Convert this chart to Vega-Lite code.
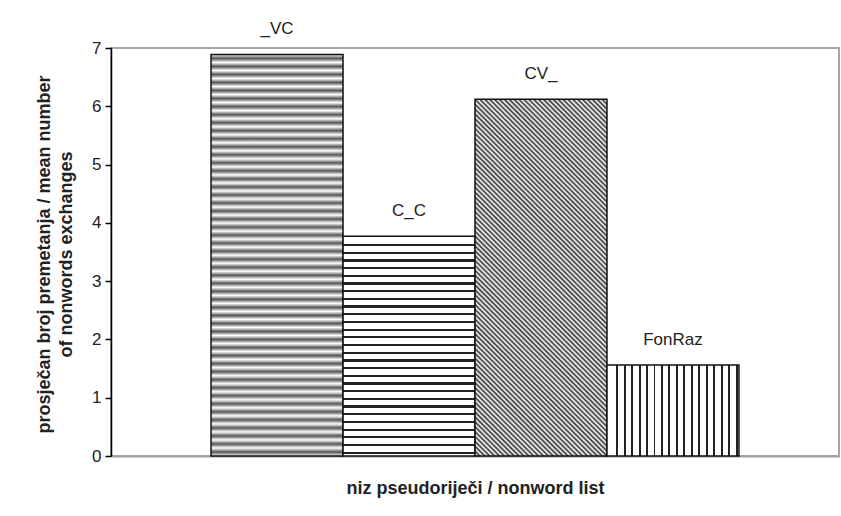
{
 "$schema": "https://vega.github.io/schema/vega-lite/v6.json",
 "width": 728,
 "height": 408,
 "autosize": "none",
 "padding": {"left": 111, "top": 48, "right": 2, "bottom": 60},
 "background": "white",
 "config": {"view": {"stroke": "#a6a6a6", "strokeWidth": 2}, "font": "Liberation Sans"},
 "data": {"values": [
  {"list": "_VC", "value": 6.89},
  {"list": "C_C", "value": 3.77},
  {"list": "CV_", "value": 6.12},
  {"list": "FonRaz", "value": 1.56}
 ]},
 "encoding": {
  "x": {"field": "list", "type": "nominal",
   "scale": {"domain": ["_VC", "C_C", "CV_", "FonRaz"], "paddingInner": 0, "paddingOuter": 0.758},
   "axis": {"labels": false, "ticks": false, "domainColor": "#a0a0a0", "domainWidth": 2,
    "title": "niz pseudoriječi / nonword list", "titleFontSize": 18, "titleFontWeight": "bold",
    "titleColor": "#222", "titlePadding": 23}},
  "y": {"field": "value", "type": "quantitative",
   "scale": {"domain": [0, 7], "nice": false},
   "axis": {"values": [0, 1, 2, 3, 4, 5, 6, 7], "grid": false, "domainColor": "#000", "domainWidth": 1.5,
    "tickColor": "#000", "tickWidth": 1.5, "tickSize": 6, "labelFontSize": 17, "labelColor": "#222",
    "labelPadding": 4,
    "title": ["prosječan broj premetanja / mean number", "of nonwords exchanges"],
    "titleFontSize": 18, "titleFontWeight": "bold", "titleColor": "#222", "titleLineHeight": 22,
    "titleX": -67, "titleY": 206, "titleBaseline": "middle", "titleAlign": "center", "titleAngle": 270}}
 },
 "layer": [
  {"transform": [{"filter": "datum.list === '_VC'"}],
   "mark": {"type": "bar", "stroke": "#111", "strokeWidth": 1.5,
    "fill": {"gradient": "linear", "x1": 0, "y1": 0, "x2": 0, "y2": 1, "stops": [
{"offset":0,"color":"#fff"},{"offset":0.01,"color":"#555"},{"offset":0.02,"color":"#fff"},{"offset":0.03,"color":"#555"},{"offset":0.04,"color":"#fff"},{"offset":0.05,"color":"#555"},{"offset":0.06,"color":"#fff"},{"offset":0.07,"color":"#555"},{"offset":0.08,"color":"#fff"},{"offset":0.09,"color":"#555"},
{"offset":0.1,"color":"#fff"},{"offset":0.11,"color":"#555"},{"offset":0.12,"color":"#fff"},{"offset":0.13,"color":"#555"},{"offset":0.14,"color":"#fff"},{"offset":0.15,"color":"#555"},{"offset":0.16,"color":"#fff"},{"offset":0.17,"color":"#555"},{"offset":0.18,"color":"#fff"},{"offset":0.19,"color":"#555"},
{"offset":0.2,"color":"#fff"},{"offset":0.21,"color":"#555"},{"offset":0.22,"color":"#fff"},{"offset":0.23,"color":"#555"},{"offset":0.24,"color":"#fff"},{"offset":0.25,"color":"#555"},{"offset":0.26,"color":"#fff"},{"offset":0.27,"color":"#555"},{"offset":0.28,"color":"#fff"},{"offset":0.29,"color":"#555"},
{"offset":0.3,"color":"#fff"},{"offset":0.31,"color":"#555"},{"offset":0.32,"color":"#fff"},{"offset":0.33,"color":"#555"},{"offset":0.34,"color":"#fff"},{"offset":0.35,"color":"#555"},{"offset":0.36,"color":"#fff"},{"offset":0.37,"color":"#555"},{"offset":0.38,"color":"#fff"},{"offset":0.39,"color":"#555"},
{"offset":0.4,"color":"#fff"},{"offset":0.41,"color":"#555"},{"offset":0.42,"color":"#fff"},{"offset":0.43,"color":"#555"},{"offset":0.44,"color":"#fff"},{"offset":0.45,"color":"#555"},{"offset":0.46,"color":"#fff"},{"offset":0.47,"color":"#555"},{"offset":0.48,"color":"#fff"},{"offset":0.49,"color":"#555"},
{"offset":0.5,"color":"#fff"},{"offset":0.51,"color":"#555"},{"offset":0.52,"color":"#fff"},{"offset":0.53,"color":"#555"},{"offset":0.54,"color":"#fff"},{"offset":0.55,"color":"#555"},{"offset":0.56,"color":"#fff"},{"offset":0.57,"color":"#555"},{"offset":0.58,"color":"#fff"},{"offset":0.59,"color":"#555"},
{"offset":0.6,"color":"#fff"},{"offset":0.61,"color":"#555"},{"offset":0.62,"color":"#fff"},{"offset":0.63,"color":"#555"},{"offset":0.64,"color":"#fff"},{"offset":0.65,"color":"#555"},{"offset":0.66,"color":"#fff"},{"offset":0.67,"color":"#555"},{"offset":0.68,"color":"#fff"},{"offset":0.69,"color":"#555"},
{"offset":0.7,"color":"#fff"},{"offset":0.71,"color":"#555"},{"offset":0.72,"color":"#fff"},{"offset":0.73,"color":"#555"},{"offset":0.74,"color":"#fff"},{"offset":0.75,"color":"#555"},{"offset":0.76,"color":"#fff"},{"offset":0.77,"color":"#555"},{"offset":0.78,"color":"#fff"},{"offset":0.79,"color":"#555"},
{"offset":0.8,"color":"#fff"},{"offset":0.81,"color":"#555"},{"offset":0.82,"color":"#fff"},{"offset":0.83,"color":"#555"},{"offset":0.84,"color":"#fff"},{"offset":0.85,"color":"#555"},{"offset":0.86,"color":"#fff"},{"offset":0.87,"color":"#555"},{"offset":0.88,"color":"#fff"},{"offset":0.89,"color":"#555"},
{"offset":0.9,"color":"#fff"},{"offset":0.91,"color":"#555"},{"offset":0.92,"color":"#fff"},{"offset":0.93,"color":"#555"},{"offset":0.94,"color":"#fff"},{"offset":0.95,"color":"#555"},{"offset":0.96,"color":"#fff"},{"offset":0.97,"color":"#555"},{"offset":0.98,"color":"#fff"},{"offset":0.99,"color":"#555"},
{"offset":1,"color":"#fff"}
    ]}}},
  {"transform": [{"filter": "datum.list === 'C_C'"}],
   "mark": {"type": "bar", "stroke": "#111", "strokeWidth": 1.5,
    "fill": {"gradient": "linear", "x1": 0, "y1": 0, "x2": 0, "y2": 1, "stops": [
{"offset":0,"color":"#fff"},
{"offset":0.035,"color":"#fff"},{"offset":0.035,"color":"#222"},{"offset":0.045,"color":"#222"},{"offset":0.045,"color":"#fff"},
{"offset":0.07,"color":"#fff"},{"offset":0.07,"color":"#222"},{"offset":0.08,"color":"#222"},{"offset":0.08,"color":"#fff"},
{"offset":0.105,"color":"#fff"},{"offset":0.105,"color":"#222"},{"offset":0.115,"color":"#222"},{"offset":0.115,"color":"#fff"},
{"offset":0.14,"color":"#fff"},{"offset":0.14,"color":"#222"},{"offset":0.15,"color":"#222"},{"offset":0.15,"color":"#fff"},
{"offset":0.175,"color":"#fff"},{"offset":0.175,"color":"#222"},{"offset":0.185,"color":"#222"},{"offset":0.185,"color":"#fff"},
{"offset":0.21,"color":"#fff"},{"offset":0.21,"color":"#222"},{"offset":0.22,"color":"#222"},{"offset":0.22,"color":"#fff"},
{"offset":0.245,"color":"#fff"},{"offset":0.245,"color":"#222"},{"offset":0.255,"color":"#222"},{"offset":0.255,"color":"#fff"},
{"offset":0.28,"color":"#fff"},{"offset":0.28,"color":"#222"},{"offset":0.29,"color":"#222"},{"offset":0.29,"color":"#fff"},
{"offset":0.315,"color":"#fff"},{"offset":0.315,"color":"#222"},{"offset":0.325,"color":"#222"},{"offset":0.325,"color":"#fff"},
{"offset":0.35,"color":"#fff"},{"offset":0.35,"color":"#222"},{"offset":0.36,"color":"#222"},{"offset":0.36,"color":"#fff"},
{"offset":0.385,"color":"#fff"},{"offset":0.385,"color":"#222"},{"offset":0.395,"color":"#222"},{"offset":0.395,"color":"#fff"},
{"offset":0.42,"color":"#fff"},{"offset":0.42,"color":"#222"},{"offset":0.43,"color":"#222"},{"offset":0.43,"color":"#fff"},
{"offset":0.455,"color":"#fff"},{"offset":0.455,"color":"#222"},{"offset":0.465,"color":"#222"},{"offset":0.465,"color":"#fff"},
{"offset":0.49,"color":"#fff"},{"offset":0.49,"color":"#222"},{"offset":0.5,"color":"#222"},{"offset":0.5,"color":"#fff"},
{"offset":0.525,"color":"#fff"},{"offset":0.525,"color":"#222"},{"offset":0.535,"color":"#222"},{"offset":0.535,"color":"#fff"},
{"offset":0.56,"color":"#fff"},{"offset":0.56,"color":"#222"},{"offset":0.57,"color":"#222"},{"offset":0.57,"color":"#fff"},
{"offset":0.595,"color":"#fff"},{"offset":0.595,"color":"#222"},{"offset":0.605,"color":"#222"},{"offset":0.605,"color":"#fff"},
{"offset":0.63,"color":"#fff"},{"offset":0.63,"color":"#222"},{"offset":0.64,"color":"#222"},{"offset":0.64,"color":"#fff"},
{"offset":0.665,"color":"#fff"},{"offset":0.665,"color":"#222"},{"offset":0.675,"color":"#222"},{"offset":0.675,"color":"#fff"},
{"offset":0.7,"color":"#fff"},{"offset":0.7,"color":"#222"},{"offset":0.71,"color":"#222"},{"offset":0.71,"color":"#fff"},
{"offset":0.735,"color":"#fff"},{"offset":0.735,"color":"#222"},{"offset":0.745,"color":"#222"},{"offset":0.745,"color":"#fff"},
{"offset":0.77,"color":"#fff"},{"offset":0.77,"color":"#222"},{"offset":0.78,"color":"#222"},{"offset":0.78,"color":"#fff"},
{"offset":0.805,"color":"#fff"},{"offset":0.805,"color":"#222"},{"offset":0.815,"color":"#222"},{"offset":0.815,"color":"#fff"},
{"offset":0.84,"color":"#fff"},{"offset":0.84,"color":"#222"},{"offset":0.85,"color":"#222"},{"offset":0.85,"color":"#fff"},
{"offset":0.875,"color":"#fff"},{"offset":0.875,"color":"#222"},{"offset":0.885,"color":"#222"},{"offset":0.885,"color":"#fff"},
{"offset":0.91,"color":"#fff"},{"offset":0.91,"color":"#222"},{"offset":0.92,"color":"#222"},{"offset":0.92,"color":"#fff"},
{"offset":0.945,"color":"#fff"},{"offset":0.945,"color":"#222"},{"offset":0.955,"color":"#222"},{"offset":0.955,"color":"#fff"},
{"offset":0.98,"color":"#fff"},{"offset":0.98,"color":"#222"},{"offset":0.99,"color":"#222"},{"offset":0.99,"color":"#fff"},
{"offset":1,"color":"#fff"}
    ]}}},
  {"transform": [{"filter": "datum.list === 'CV_'"}],
   "mark": {"type": "bar", "stroke": "#111", "strokeWidth": 1.5,
    "fill": {"gradient": "linear", "x1": 0, "y1": 1, "x2": 0.4455, "y2": -0.205, "stops": [
{"offset":0,"color":"#333"},{"offset":0.005,"color":"#fff"},{"offset":0.01,"color":"#333"},{"offset":0.015,"color":"#fff"},{"offset":0.02,"color":"#333"},{"offset":0.025,"color":"#fff"},{"offset":0.03,"color":"#333"},{"offset":0.035,"color":"#fff"},{"offset":0.04,"color":"#333"},{"offset":0.045,"color":"#fff"},
{"offset":0.05,"color":"#333"},{"offset":0.055,"color":"#fff"},{"offset":0.06,"color":"#333"},{"offset":0.065,"color":"#fff"},{"offset":0.07,"color":"#333"},{"offset":0.075,"color":"#fff"},{"offset":0.08,"color":"#333"},{"offset":0.085,"color":"#fff"},{"offset":0.09,"color":"#333"},{"offset":0.095,"color":"#fff"},
{"offset":0.1,"color":"#333"},{"offset":0.105,"color":"#fff"},{"offset":0.11,"color":"#333"},{"offset":0.115,"color":"#fff"},{"offset":0.12,"color":"#333"},{"offset":0.125,"color":"#fff"},{"offset":0.13,"color":"#333"},{"offset":0.135,"color":"#fff"},{"offset":0.14,"color":"#333"},{"offset":0.145,"color":"#fff"},
{"offset":0.15,"color":"#333"},{"offset":0.155,"color":"#fff"},{"offset":0.16,"color":"#333"},{"offset":0.165,"color":"#fff"},{"offset":0.17,"color":"#333"},{"offset":0.175,"color":"#fff"},{"offset":0.18,"color":"#333"},{"offset":0.185,"color":"#fff"},{"offset":0.19,"color":"#333"},{"offset":0.195,"color":"#fff"},
{"offset":0.2,"color":"#333"},{"offset":0.205,"color":"#fff"},{"offset":0.21,"color":"#333"},{"offset":0.215,"color":"#fff"},{"offset":0.22,"color":"#333"},{"offset":0.225,"color":"#fff"},{"offset":0.23,"color":"#333"},{"offset":0.235,"color":"#fff"},{"offset":0.24,"color":"#333"},{"offset":0.245,"color":"#fff"},
{"offset":0.25,"color":"#333"},{"offset":0.255,"color":"#fff"},{"offset":0.26,"color":"#333"},{"offset":0.265,"color":"#fff"},{"offset":0.27,"color":"#333"},{"offset":0.275,"color":"#fff"},{"offset":0.28,"color":"#333"},{"offset":0.285,"color":"#fff"},{"offset":0.29,"color":"#333"},{"offset":0.295,"color":"#fff"},
{"offset":0.3,"color":"#333"},{"offset":0.305,"color":"#fff"},{"offset":0.31,"color":"#333"},{"offset":0.315,"color":"#fff"},{"offset":0.32,"color":"#333"},{"offset":0.325,"color":"#fff"},{"offset":0.33,"color":"#333"},{"offset":0.335,"color":"#fff"},{"offset":0.34,"color":"#333"},{"offset":0.345,"color":"#fff"},
{"offset":0.35,"color":"#333"},{"offset":0.355,"color":"#fff"},{"offset":0.36,"color":"#333"},{"offset":0.365,"color":"#fff"},{"offset":0.37,"color":"#333"},{"offset":0.375,"color":"#fff"},{"offset":0.38,"color":"#333"},{"offset":0.385,"color":"#fff"},{"offset":0.39,"color":"#333"},{"offset":0.395,"color":"#fff"},
{"offset":0.4,"color":"#333"},{"offset":0.405,"color":"#fff"},{"offset":0.41,"color":"#333"},{"offset":0.415,"color":"#fff"},{"offset":0.42,"color":"#333"},{"offset":0.425,"color":"#fff"},{"offset":0.43,"color":"#333"},{"offset":0.435,"color":"#fff"},{"offset":0.44,"color":"#333"},{"offset":0.445,"color":"#fff"},
{"offset":0.45,"color":"#333"},{"offset":0.455,"color":"#fff"},{"offset":0.46,"color":"#333"},{"offset":0.465,"color":"#fff"},{"offset":0.47,"color":"#333"},{"offset":0.475,"color":"#fff"},{"offset":0.48,"color":"#333"},{"offset":0.485,"color":"#fff"},{"offset":0.49,"color":"#333"},{"offset":0.495,"color":"#fff"},
{"offset":0.5,"color":"#333"},{"offset":0.505,"color":"#fff"},{"offset":0.51,"color":"#333"},{"offset":0.515,"color":"#fff"},{"offset":0.52,"color":"#333"},{"offset":0.525,"color":"#fff"},{"offset":0.53,"color":"#333"},{"offset":0.535,"color":"#fff"},{"offset":0.54,"color":"#333"},{"offset":0.545,"color":"#fff"},
{"offset":0.55,"color":"#333"},{"offset":0.555,"color":"#fff"},{"offset":0.56,"color":"#333"},{"offset":0.565,"color":"#fff"},{"offset":0.57,"color":"#333"},{"offset":0.575,"color":"#fff"},{"offset":0.58,"color":"#333"},{"offset":0.585,"color":"#fff"},{"offset":0.59,"color":"#333"},{"offset":0.595,"color":"#fff"},
{"offset":0.6,"color":"#333"},{"offset":0.605,"color":"#fff"},{"offset":0.61,"color":"#333"},{"offset":0.615,"color":"#fff"},{"offset":0.62,"color":"#333"},{"offset":0.625,"color":"#fff"},{"offset":0.63,"color":"#333"},{"offset":0.635,"color":"#fff"},{"offset":0.64,"color":"#333"},{"offset":0.645,"color":"#fff"},
{"offset":0.65,"color":"#333"},{"offset":0.655,"color":"#fff"},{"offset":0.66,"color":"#333"},{"offset":0.665,"color":"#fff"},{"offset":0.67,"color":"#333"},{"offset":0.675,"color":"#fff"},{"offset":0.68,"color":"#333"},{"offset":0.685,"color":"#fff"},{"offset":0.69,"color":"#333"},{"offset":0.695,"color":"#fff"},
{"offset":0.7,"color":"#333"},{"offset":0.705,"color":"#fff"},{"offset":0.71,"color":"#333"},{"offset":0.715,"color":"#fff"},{"offset":0.72,"color":"#333"},{"offset":0.725,"color":"#fff"},{"offset":0.73,"color":"#333"},{"offset":0.735,"color":"#fff"},{"offset":0.74,"color":"#333"},{"offset":0.745,"color":"#fff"},
{"offset":0.75,"color":"#333"},{"offset":0.755,"color":"#fff"},{"offset":0.76,"color":"#333"},{"offset":0.765,"color":"#fff"},{"offset":0.77,"color":"#333"},{"offset":0.775,"color":"#fff"},{"offset":0.78,"color":"#333"},{"offset":0.785,"color":"#fff"},{"offset":0.79,"color":"#333"},{"offset":0.795,"color":"#fff"},
{"offset":0.8,"color":"#333"},{"offset":0.805,"color":"#fff"},{"offset":0.81,"color":"#333"},{"offset":0.815,"color":"#fff"},{"offset":0.82,"color":"#333"},{"offset":0.825,"color":"#fff"},{"offset":0.83,"color":"#333"},{"offset":0.835,"color":"#fff"},{"offset":0.84,"color":"#333"},{"offset":0.845,"color":"#fff"},
{"offset":0.85,"color":"#333"},{"offset":0.855,"color":"#fff"},{"offset":0.86,"color":"#333"},{"offset":0.865,"color":"#fff"},{"offset":0.87,"color":"#333"},{"offset":0.875,"color":"#fff"},{"offset":0.88,"color":"#333"},{"offset":0.885,"color":"#fff"},{"offset":0.89,"color":"#333"},{"offset":0.895,"color":"#fff"},
{"offset":0.9,"color":"#333"},{"offset":0.905,"color":"#fff"},{"offset":0.91,"color":"#333"},{"offset":0.915,"color":"#fff"},{"offset":0.92,"color":"#333"},{"offset":0.925,"color":"#fff"},{"offset":0.93,"color":"#333"},{"offset":0.935,"color":"#fff"},{"offset":0.94,"color":"#333"},{"offset":0.945,"color":"#fff"},
{"offset":0.95,"color":"#333"},{"offset":0.955,"color":"#fff"},{"offset":0.96,"color":"#333"},{"offset":0.965,"color":"#fff"},{"offset":0.97,"color":"#333"},{"offset":0.975,"color":"#fff"},{"offset":0.98,"color":"#333"},{"offset":0.985,"color":"#fff"},{"offset":0.99,"color":"#333"},{"offset":0.995,"color":"#fff"},
{"offset":1,"color":"#333"}
    ]}}},
  {"transform": [{"filter": "datum.list === 'FonRaz'"}],
   "mark": {"type": "bar", "stroke": "#111", "strokeWidth": 1.5,
    "fill": {"gradient": "linear", "x1": 0, "y1": 0, "x2": 1, "y2": 0, "stops": [
{"offset":0,"color":"#fff"},
{"offset":0.07,"color":"#fff"},{"offset":0.07,"color":"#222"},{"offset":0.085,"color":"#222"},{"offset":0.085,"color":"#fff"},
{"offset":0.1265,"color":"#fff"},{"offset":0.1265,"color":"#222"},{"offset":0.1415,"color":"#222"},{"offset":0.1415,"color":"#fff"},
{"offset":0.183,"color":"#fff"},{"offset":0.183,"color":"#222"},{"offset":0.198,"color":"#222"},{"offset":0.198,"color":"#fff"},
{"offset":0.2395,"color":"#fff"},{"offset":0.2395,"color":"#222"},{"offset":0.2545,"color":"#222"},{"offset":0.2545,"color":"#fff"},
{"offset":0.296,"color":"#fff"},{"offset":0.296,"color":"#222"},{"offset":0.311,"color":"#222"},{"offset":0.311,"color":"#fff"},
{"offset":0.3525,"color":"#fff"},{"offset":0.3525,"color":"#222"},{"offset":0.3675,"color":"#222"},{"offset":0.3675,"color":"#fff"},
{"offset":0.409,"color":"#fff"},{"offset":0.409,"color":"#222"},{"offset":0.424,"color":"#222"},{"offset":0.424,"color":"#fff"},
{"offset":0.4655,"color":"#fff"},{"offset":0.4655,"color":"#222"},{"offset":0.4805,"color":"#222"},{"offset":0.4805,"color":"#fff"},
{"offset":0.522,"color":"#fff"},{"offset":0.522,"color":"#222"},{"offset":0.537,"color":"#222"},{"offset":0.537,"color":"#fff"},
{"offset":0.5785,"color":"#fff"},{"offset":0.5785,"color":"#222"},{"offset":0.5935,"color":"#222"},{"offset":0.5935,"color":"#fff"},
{"offset":0.635,"color":"#fff"},{"offset":0.635,"color":"#222"},{"offset":0.65,"color":"#222"},{"offset":0.65,"color":"#fff"},
{"offset":0.6915,"color":"#fff"},{"offset":0.6915,"color":"#222"},{"offset":0.7065,"color":"#222"},{"offset":0.7065,"color":"#fff"},
{"offset":0.748,"color":"#fff"},{"offset":0.748,"color":"#222"},{"offset":0.763,"color":"#222"},{"offset":0.763,"color":"#fff"},
{"offset":0.8045,"color":"#fff"},{"offset":0.8045,"color":"#222"},{"offset":0.8195,"color":"#222"},{"offset":0.8195,"color":"#fff"},
{"offset":0.861,"color":"#fff"},{"offset":0.861,"color":"#222"},{"offset":0.876,"color":"#222"},{"offset":0.876,"color":"#fff"},
{"offset":0.9175,"color":"#fff"},{"offset":0.9175,"color":"#222"},{"offset":0.9325,"color":"#222"},{"offset":0.9325,"color":"#fff"},
{"offset":0.974,"color":"#fff"},{"offset":0.974,"color":"#222"},{"offset":0.989,"color":"#222"},{"offset":0.989,"color":"#fff"},
{"offset":1,"color":"#fff"}
    ]}}},
  {"mark": {"type": "text", "dy": -25, "fontSize": 17, "font": "Liberation Sans", "color": "#222"},
   "encoding": {"text": {"field": "list", "type": "nominal"}}}
 ]
}
